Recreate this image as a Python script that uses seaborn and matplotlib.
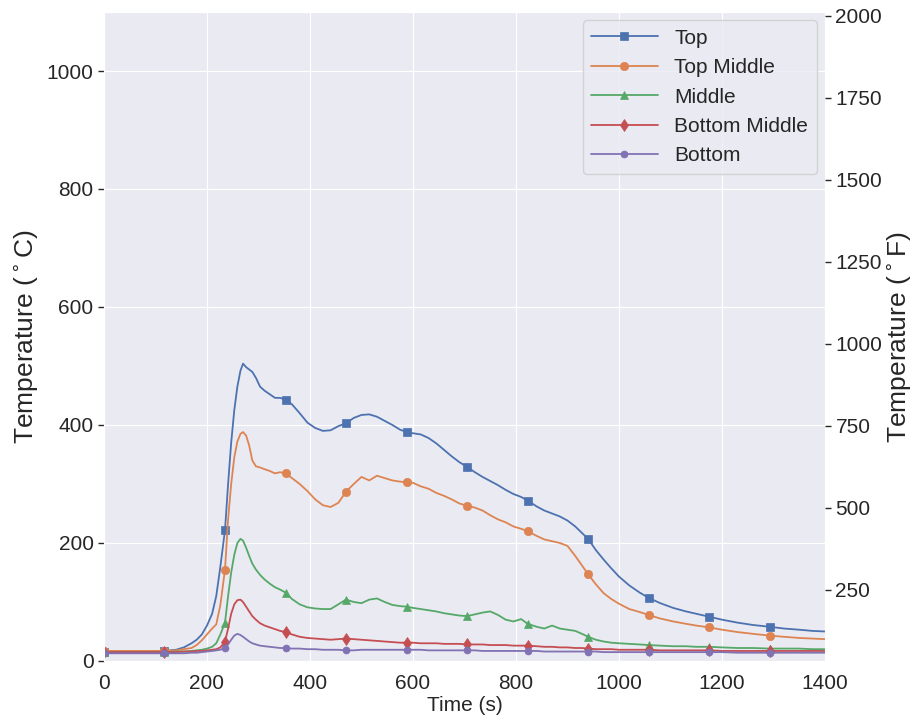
import numpy as np
import matplotlib
matplotlib.use("Agg")
import matplotlib.pyplot as plt
import seaborn as sns

# time (s) - shared by all thermocouples
time_s = [0, 40, 80, 117.5, 140, 155, 170, 180, 190, 200,
          210, 218, 226, 235, 241, 247, 253, 259, 265, 270,
          276, 282, 288, 295, 303, 312, 322, 332, 342, 352.5,
          365, 380, 395, 410, 425, 440, 455, 470, 485, 500,
          515, 530, 545, 560, 575, 587.5, 600, 615, 630, 645,
          660, 675, 690, 705, 720, 735, 750, 765, 780, 795,
          810, 822.5, 840, 855, 870, 885, 900, 915, 928, 940,
          955, 970, 985, 1000, 1020, 1040, 1057.5, 1080, 1105, 1130,
          1150, 1175, 1200, 1230, 1260, 1292.5, 1320, 1350, 1375, 1400]

# temperatures (C)
top = [16, 16, 16, 17, 19, 23, 30, 36, 45, 60,
       80, 110, 160, 222, 300, 370, 425, 465, 492, 504,
       498, 494, 490, 480, 465, 458, 452, 446, 446, 443,
       435, 420, 404, 395, 390, 391, 398, 403, 412, 417,
       418, 414, 407, 400, 392, 388, 386, 384, 378, 369,
       358, 347, 337, 329, 320, 312, 305, 298, 290, 283,
       278, 272, 262, 255, 250, 245, 238, 228, 217, 207,
       188, 172, 157, 143, 128, 116, 107, 98, 90, 84,
       80, 75, 70, 65, 61, 58, 55, 53, 51, 50]

top_middle = [17, 17, 17, 17, 18, 20, 22, 27, 35, 45,
              55, 62, 95, 155, 240, 300, 345, 372, 385, 388,
              382, 365, 340, 330, 328, 325, 322, 318, 320, 318,
              310, 300, 288, 274, 264, 261, 268, 287, 300, 312,
              306, 314, 310, 306, 304, 303, 302, 296, 292, 285,
              280, 274, 267, 263, 260, 255, 247, 240, 235, 228,
              224, 220, 212, 206, 203, 200, 195, 178, 162, 147,
              130, 115, 105, 97, 88, 83, 78, 72, 67, 63,
              60, 57, 53, 49, 46, 43, 41, 39, 38, 37]

middle = [15, 15, 15, 15, 16, 16, 17, 18, 19, 21,
          24, 30, 45, 65, 110, 150, 180, 200, 207, 204,
          192, 178, 165, 155, 146, 138, 131, 125, 121, 116,
          105, 96, 91, 89, 88, 88, 96, 104, 100, 98,
          104, 106, 100, 95, 93, 92, 90, 88, 86, 84,
          81, 79, 77, 76, 79, 82, 84, 78, 70, 67,
          71, 63, 58, 55, 60, 55, 53, 51, 46, 41,
          36, 33, 31, 30, 29, 28, 27, 26, 25, 25,
          24, 24, 23, 22, 22, 21, 21, 21, 20, 20]

bottom_middle = [15, 15, 15, 15, 15, 16, 16, 17, 17, 18,
                 19, 20, 23, 33, 55, 80, 96, 103, 104, 100,
                 92, 84, 76, 70, 64, 60, 57, 54, 51, 49,
                 45, 41, 39, 38, 37, 36, 37, 38, 37, 36,
                 35, 34, 33, 32, 31, 31, 31, 30, 30, 30,
                 29, 29, 29, 28, 28, 28, 27, 27, 27, 26,
                 26, 26, 25, 24, 24, 23, 23, 22, 22, 21,
                 20, 20, 20, 19, 19, 19, 19, 18, 18, 18,
                 18, 18, 17, 17, 17, 17, 17, 17, 17, 17]

bottom = [13, 13, 13, 13, 13, 13, 14, 14, 15, 16,
          17, 18, 19, 22, 28, 36, 43, 46, 44, 41,
          37, 33, 30, 28, 26, 25, 24, 23, 22, 22,
          21, 21, 20, 20, 19, 19, 19, 18, 18, 19,
          19, 19, 19, 19, 19, 19, 19, 19, 18, 18,
          18, 18, 18, 18, 18, 17, 17, 17, 17, 17,
          17, 17, 17, 16, 16, 16, 16, 16, 16, 16,
          16, 15, 15, 15, 15, 15, 15, 15, 15, 15,
          15, 15, 15, 14, 14, 14, 14, 14, 14, 14]

labels = ['Top', 'Top Middle', 'Middle', 'Bottom Middle', 'Bottom']
markers = ['s', 'o', '^', 'd', 'o']
msizes = [6, 6, 6, 6, 5]

sns.set_style('darkgrid')
plt.rcParams['font.family'] = ['Liberation Sans', 'DejaVu Sans']

fig, ax = plt.subplots(figsize=(9.16, 7.19), dpi=100)
fig.subplots_adjust(left=0.1135, right=0.9007, top=0.9833, bottom=0.0807)

pal = sns.color_palette('deep')
t = np.array(time_s)
mark_idx = list(np.where(np.isclose(np.mod(t, 117.5), 0))[0])

for i, (name, vals) in enumerate(zip(labels, [top, top_middle, middle, bottom_middle, bottom])):
    sns.lineplot(x=t, y=vals, ax=ax, color=pal[i], label=name, linewidth=1.3,
                 marker=markers[i], markersize=msizes[i], markevery=mark_idx,
                 markeredgecolor=pal[i], markeredgewidth=0.5, estimator=None)

ax.set_xlim(0, 1400)
ax.set_ylim(0, 1100)
ax.set_yticks([0, 200, 400, 600, 800, 1000])
ax.set_xlabel('Time (s)', fontsize=15, labelpad=2)
ax.set_ylabel('Temperature ($^\\circ$C)', fontsize=19, labelpad=5)
ax.tick_params(axis='x', labelsize=15, bottom=False, pad=6)
ax.tick_params(axis='y', labelsize=15, left=True, length=4, width=1, color='.15')

leg = ax.legend(loc='upper right', fontsize=15, frameon=True, borderaxespad=0.4,
                handlelength=3.2)

# right axis in Fahrenheit
ax2 = ax.twinx()
ax2.set_ylim(32, 32 + 1100 * 1.8)
ax2.set_yticks([250, 500, 750, 1000, 1250, 1500, 1750, 2000])
ax2.grid(False)
ax2.tick_params(axis='y', labelsize=15, right=True, length=4, width=1, color='.15')
ax2.set_ylabel('Temperature ($^\\circ$F)', fontsize=19, labelpad=2)
for s in ax2.spines.values():
    s.set_visible(False)

plt.savefig('out.png', dpi=100)
